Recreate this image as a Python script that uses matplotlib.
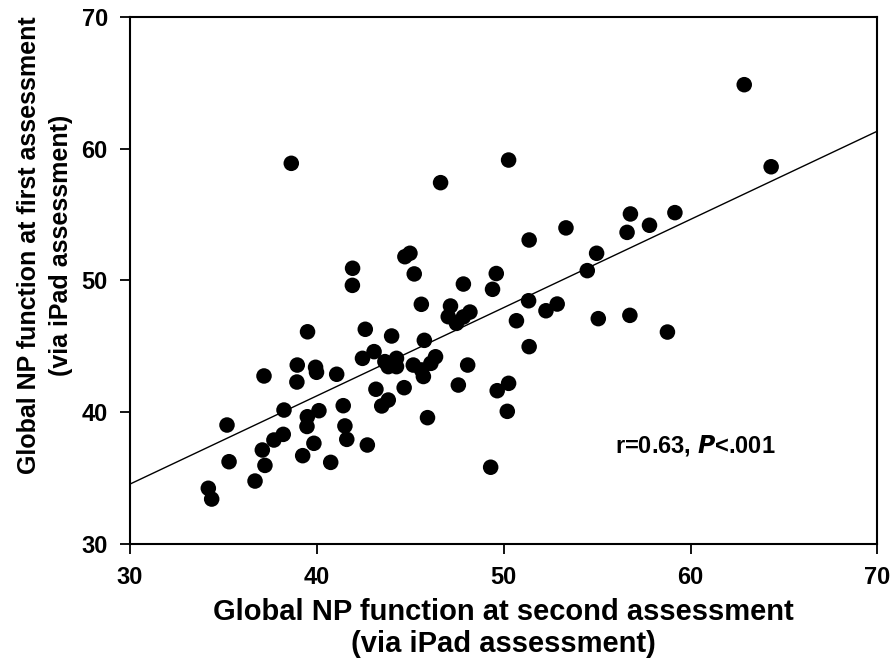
import matplotlib
matplotlib.use("Agg")
import matplotlib.pyplot as plt
import numpy as np

plt.rcParams['font.family'] = ['Liberation Sans', 'DejaVu Sans']
plt.rcParams['font.weight'] = 'bold'

# Global NP function at second assessment (x) vs first assessment (y)
second_assessment = [
    62.87, 64.31, 38.63, 50.26, 46.62, 59.16, 56.78, 57.80, 56.60, 53.33,
    51.36, 54.97, 54.47, 44.71, 44.98, 41.91, 41.90, 45.21, 47.84, 49.60,
    49.40, 45.59, 47.15, 47.03, 47.47, 48.19, 47.84, 51.33, 52.26, 52.86,
    50.68, 55.06, 56.75, 58.76, 51.36, 50.26, 49.65, 50.19, 49.30, 39.50,
    42.59, 44.00, 45.75, 42.44, 43.06, 43.64, 44.26, 44.26, 43.82, 45.16,
    45.60, 46.10, 46.35, 45.70, 48.07, 47.57, 38.95, 39.93, 39.98, 41.06,
    37.17, 38.93, 44.67, 43.16, 43.82, 43.47, 38.24, 40.11, 41.41, 39.49,
    39.47, 45.92, 35.19, 41.50, 41.60, 38.20, 37.70, 37.08, 39.84, 42.70,
    39.24, 40.74, 35.30, 37.22, 36.69, 34.19, 34.37,
]
first_assessment = [
    64.89, 58.65, 58.91, 59.16, 57.44, 55.16, 55.06, 54.20, 53.66, 54.00,
    53.08, 52.07, 50.75, 51.81, 52.07, 50.93, 49.63, 50.50, 49.73, 50.53,
    49.33, 48.19, 48.06, 47.25, 46.74, 47.60, 47.23, 48.46, 47.70, 48.21,
    46.94, 47.10, 47.35, 46.08, 44.97, 42.18, 41.62, 40.05, 35.80, 46.10,
    46.29, 45.78, 45.45, 44.08, 44.59, 43.83, 44.08, 43.45, 43.45, 43.57,
    43.20, 43.70, 44.20, 42.70, 43.57, 42.05, 43.57, 43.40, 43.02, 42.87,
    42.74, 42.28, 41.85, 41.73, 40.91, 40.46, 40.15, 40.10, 40.48, 39.64,
    38.90, 39.57, 39.01, 38.94, 37.92, 38.30, 37.87, 37.11, 37.62, 37.49,
    36.68, 36.17, 36.22, 35.94, 34.75, 34.20, 33.38,
]

# Regression line
fit_intercept_at_30 = 34.52
fit_slope = 0.671
axis_ticks = [30, 40, 50, 60, 70]
annotation = "r=0.63, "

fig = plt.figure(figsize=(8.93, 6.6), dpi=100)
ax = fig.add_axes([0.1456, 0.1765, 0.8370, 0.7970])

ax.scatter(second_assessment, first_assessment, s=125, color='black',
           edgecolors='none', zorder=3)

xl = np.array([30, 70])
ax.plot(xl, fit_intercept_at_30 + fit_slope * (xl - 30), color='black',
        lw=1.0, zorder=2)

ax.set_xlim(30, 70)
ax.set_ylim(30, 70)
ax.set_xticks(axis_ticks)
ax.set_yticks(axis_ticks)
ax.tick_params(direction='out', length=7, width=1.3, labelsize=17, pad=9,
               top=False, right=False)
for lab in ax.get_xticklabels() + ax.get_yticklabels():
    lab.set_fontweight('bold')
for sp in ax.spines.values():
    sp.set_linewidth(1.5)

ax.set_xlabel("Global NP function at second assessment\n(via iPad assessment)",
              fontsize=21, fontweight='bold', linespacing=1.15)
ax.xaxis.set_label_coords(0.5, -0.104, transform=ax.transAxes)
ax.xaxis.label.set_va('top')
ax.set_ylabel("Global NP function at first assessment\n(via iPad assessment)",
              fontsize=18, fontweight='bold', linespacing=1.4)
ax.yaxis.set_label_coords(-0.0763, 0.567, transform=ax.transAxes)
ax.yaxis.label.set_va('bottom')

ax.text(55.95, 37.49, annotation + r"$\bfit{P}$" + "<.001", fontsize=17,
        fontweight='bold', va='center', ha='left')

fig.savefig("out.png", dpi=100)
